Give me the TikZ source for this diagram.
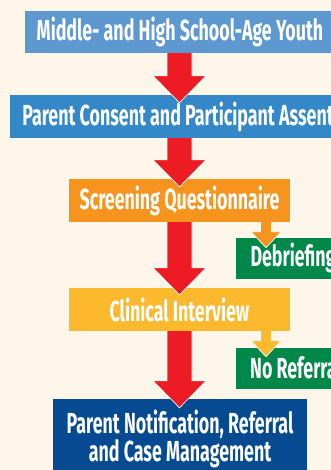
\documentclass[tikz,border=0pt]{standalone}
\usepackage{fontspec}
\usetikzlibrary{calc}

\newfontfamily\flowfont[FakeStretch=0.615]{Fira Sans}

\definecolor{paper}{HTML}{FEF6E8}
\definecolor{youthblue}{HTML}{5E98D0}
\definecolor{consentblue}{HTML}{3588C8}
\definecolor{screenorange}{HTML}{F7941E}
\definecolor{interviewyellow}{HTML}{FDB92E}
\definecolor{exitgreen}{HTML}{00884A}
\definecolor{referralblue}{HTML}{064A92}
\definecolor{flowred}{HTML}{ED1C24}

\tikzset{
  stage/.style={rectangle, inner sep=0pt, text=white, align=center,
    font=\flowfont\bfseries\fontsize{29}{27.5}\selectfont, minimum height=43},
  exit/.style={stage, fill=exitgreen, draw=white, line width=0.6pt, minimum height=42}
}

% block arrow: from, to, column, colour, shaft half width, head half width, head length, overshoot
\newcommand{\blockarrow}[8]{%
  \filldraw[fill=#4, draw=white, line width=0.7pt, line join=miter]
    let \p1=(#1.south -| #3), \p2=(#2.north -| #3) in
    (\x1-#5,\y1) -- (\x1-#5,\y2+#7-#8) -- (\x1-#6,\y2+#7-#8) --
    (\x1,\y2-#8) -- (\x1+#6,\y2+#7-#8) -- (\x1+#5,\y2+#7-#8) --
    (\x1+#5,\y1);}

\begin{document}
\begin{tikzpicture}[x=1pt, y=-1pt]

  % Page
  \useasboundingbox (0,0) rectangle (331,470);
  \clip (0,0) rectangle (331,470);
  \fill[paper] (0,0) rectangle (331,470);

  % Columns for the arrows
  \coordinate (spine) at (179.5,0);
  \coordinate (side) at (266,0);

  % Main stages
  \node[stage, fill=youthblue, minimum width=310, minimum height=42] (youth) at (180,32)
    {Middle- and High School-Age Youth};
  \node[stage, fill=consentblue, minimum width=336] (consent) at (178,116.5)
    {Parent Consent and Participant Assent};
  \node[stage, fill=screenorange, minimum width=221] (screen) at (179.5,200.5)
    {Screening Questionnaire};
  \node[stage, fill=interviewyellow, minimum width=221] (interview) at (179.5,309.5)
    {Clinical Interview};
  \node[stage, fill=referralblue, minimum width=254, minimum height=80] (referral) at (180,439)
    {Parent Notification, Referral\\and Case Management};

  % Side exits
  \node[exit, minimum width=116] (debrief) at (293,258) {Debriefing};
  \node[exit, minimum width=122] (noref) at (296,368) {No Referral};

  % Arrows
  \blockarrow{youth}{consent}{spine}{flowred}{12.5pt}{26.5pt}{27pt}{8pt}
  \blockarrow{consent}{screen}{spine}{flowred}{12.5pt}{26.5pt}{27pt}{8pt}
  \blockarrow{screen}{interview}{spine}{flowred}{12.5pt}{26.5pt}{27pt}{7pt}
  \blockarrow{interview}{referral}{spine}{flowred}{12.5pt}{26.5pt}{27pt}{9pt}
  \blockarrow{screen}{debrief}{side}{screenorange}{5.5pt}{15pt}{16pt}{11pt}
  \blockarrow{interview}{noref}{side}{interviewyellow}{5.5pt}{15pt}{16pt}{10pt}

\end{tikzpicture}
\end{document}
